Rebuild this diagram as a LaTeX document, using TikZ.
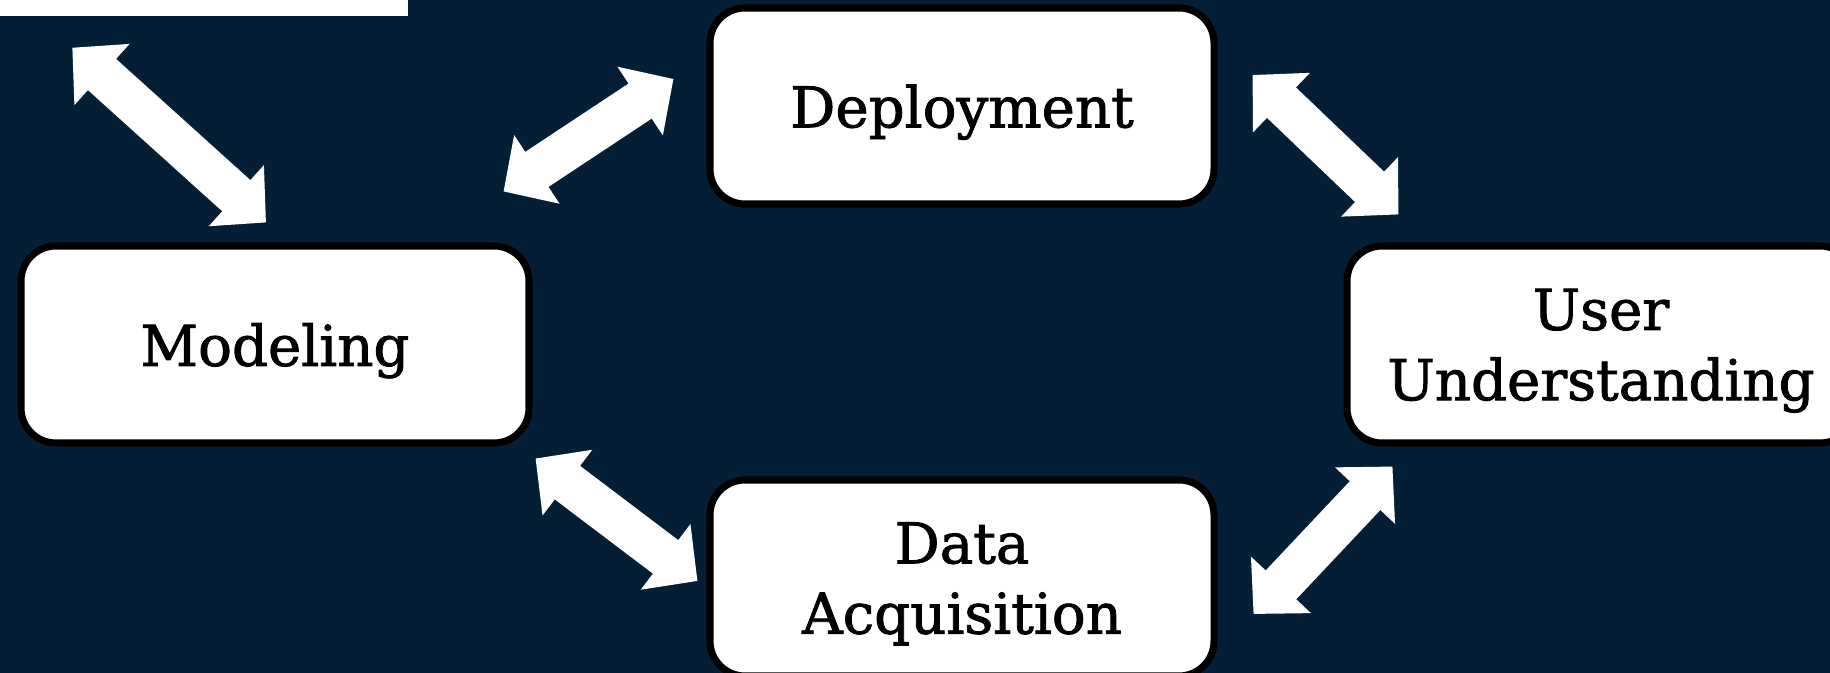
\documentclass[tikz,border=0pt]{standalone}
\usepackage{fontspec}
\setmainfont{DejaVu Serif}
\newfontfamily\stagefont{DejaVu Serif}[BoldFont=DejaVu Serif, BoldFeatures={FakeBold=1.5}]
\usetikzlibrary{arrows.meta}
\definecolor{navy}{RGB}{3,30,53}

\begin{document}
\begin{tikzpicture}
% Box style
\tikzset{
    stage/.style={draw=black, line width=2pt, fill=white, rounded corners=0.35cm,
        minimum width=5.04cm, minimum height=1.96cm, align=center, text depth=0pt,
        font=\stagefont\bfseries\fontsize{16}{20}\selectfont},
    biarrow/.style={white, line width=0.42cm,
        {Triangle[width=0.80cm,length=0.40cm]}-{Triangle[width=0.80cm,length=0.40cm]}}
}

% Background
\useasboundingbox (0, 0) rectangle (18.30, 6.73);
\clip (0, 0) rectangle (18.30, 6.73);
\fill[navy] (0, 0) rectangle (18.30, 6.73);

% Nodes
\node[fill=white, minimum width=4.08cm, minimum height=0.5cm, inner sep=0pt]
    (top) at (2.04, 6.82) {};
\node[stage] (deploy) at (9.62, 5.67) {Deployment};
\node[stage, minimum width=5.08cm, minimum height=1.97cm]
    (model) at (2.75, 3.285) {Modeling};
\node[stage, minimum width=5.08cm, minimum height=1.97cm]
    (user) at (16.01, 3.285) {User\\Understanding};
\node[stage] (data) at (9.62, 0.95) {Data\\Acquisition};

% Connections
\draw[biarrow] ([shift={(0.73,-0.31)}]top.south west) -- ([shift={(-0.09,0.20)}]model.north);
\draw[biarrow] ([shift={(-0.29,0.51)}]model.north east) -- ([shift={(-0.33,0.27)}]deploy.west);
\draw[biarrow] ([shift={(0.35,0.31)}]deploy.east) -- ([shift={(0.55,0.28)}]user.north west);
\draw[biarrow] ([shift={(0.49,-0.20)}]user.south west) -- ([shift={(0.36,-0.36)}]data.east);
\draw[biarrow] ([shift={(0.03,-0.12)}]model.south east) -- ([shift={(-0.09,-0.03)}]data.west);
\end{tikzpicture}
\end{document}
